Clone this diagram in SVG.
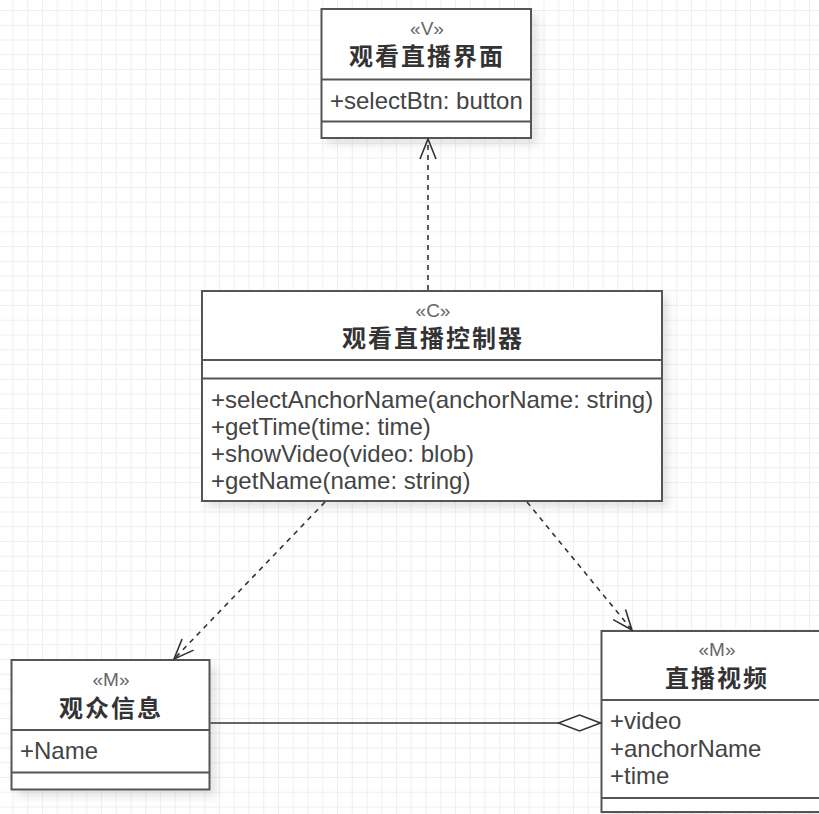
<svg xmlns="http://www.w3.org/2000/svg" width="819" height="814" viewBox="0 0 819 814">
<defs>
<pattern id="grid" width="14.75" height="14.75" x="12.5" y="10" patternUnits="userSpaceOnUse">
<path d="M0 0.5 H14.75 M0.5 0 V14.75" fill="none" stroke="#efefef" stroke-width="1"/>
</pattern>
<filter id="shadow" x="-10%" y="-10%" width="130%" height="130%">
<feDropShadow dx="6" dy="6" stdDeviation="4" flood-color="#000" flood-opacity="0.10"/>
</filter>
<marker id="open" viewBox="-24 -12 26 24" refX="0" refY="0" markerWidth="26" markerHeight="24" markerUnits="userSpaceOnUse" orient="auto">
<path d="M-20,-8 L0,0 L-20,8" fill="none" stroke="#333" stroke-width="1.6" stroke-dasharray="none"/>
</marker>
<marker id="diamond" viewBox="-44 -10 46 20" refX="0" refY="0" markerWidth="46" markerHeight="20" markerUnits="userSpaceOnUse" orient="auto">
<path d="M0,0 L-21,-8 L-42,0 L-21,8 Z" fill="#fff" stroke="#333" stroke-width="1.6" stroke-dasharray="none"/>
</marker>
</defs>
<style>
.box{fill:#fff;stroke:#555;stroke-width:2;filter:url(#shadow)}
.div{stroke:#555;stroke-width:2;fill:none}
.st{font-family:"Liberation Sans",Arial,sans-serif;font-size:19px;fill:#666;text-anchor:middle}
.tt{font-family:"Noto Sans CJK SC",sans-serif;font-size:24px;font-weight:bold;fill:#333;text-anchor:middle;letter-spacing:2px}
.at{font-family:"Liberation Sans",Arial,sans-serif;font-size:24px;fill:#444}
.dep{stroke:#333;stroke-width:1.6;stroke-dasharray:5 5;fill:none}
.asc{stroke:#333;stroke-width:1.6;fill:none}
</style>
<rect width="819" height="814" fill="#fff"/>
<rect width="819" height="814" fill="url(#grid)"/>

<g id="node-view">
<rect class="box" x="321.5" y="9" width="209.5" height="129"/>
<line class="div" x1="321.5" y1="79.5" x2="531" y2="79.5"/>
<line class="div" x1="321.5" y1="121.5" x2="531" y2="121.5"/>
<text class="st" x="427" y="35">«V»</text>
<text class="tt" x="427" y="65">观看直播界面</text>
<text class="at" x="330" y="109">+selectBtn: button</text>
</g>

<g id="node-controller">
<rect class="box" x="202" y="291" width="460" height="210"/>
<line class="div" x1="202" y1="360" x2="662" y2="360"/>
<line class="div" x1="202" y1="378.5" x2="662" y2="378.5"/>
<text class="st" x="433" y="317">«C»</text>
<text class="tt" x="433" y="347">观看直播控制器</text>
<text class="at" x="211" y="407.5">+selectAnchorName(anchorName: string)</text>
<text class="at" x="211" y="434.5">+getTime(time: time)</text>
<text class="at" x="211" y="461.5">+showVideo(video: blob)</text>
<text class="at" x="211" y="488.5">+getName(name: string)</text>
</g>

<g id="node-audience">
<rect class="box" x="11.5" y="660" width="198" height="129.5"/>
<line class="div" x1="11.5" y1="730" x2="209.5" y2="730"/>
<line class="div" x1="11.5" y1="772.5" x2="209.5" y2="772.5"/>
<text class="st" x="111" y="686">«M»</text>
<text class="tt" x="111" y="717">观众信息</text>
<text class="at" x="20" y="758.5">+Name</text>
</g>

<g id="node-video">
<rect class="box" x="601.5" y="631" width="230" height="181"/>
<line class="div" x1="601.5" y1="700" x2="831.5" y2="700"/>
<line class="div" x1="601.5" y1="798" x2="831.5" y2="798"/>
<text class="st" x="717" y="656">«M»</text>
<text class="tt" x="717" y="687">直播视频</text>
<text class="at" x="610" y="729">+video</text>
<text class="at" x="610" y="756.5">+anchorName</text>
<text class="at" x="610" y="783.5">+time</text>
</g>

<g id="connectors">
<line class="dep" x1="428" y1="290" x2="428" y2="139" marker-end="url(#open)"/>
<line class="dep" x1="325" y1="502" x2="174" y2="659" marker-end="url(#open)"/>
<line class="dep" x1="527" y1="502" x2="632" y2="630" marker-end="url(#open)"/>
<line class="asc" x1="210.5" y1="723" x2="600.5" y2="723" marker-end="url(#diamond)"/>
</g>
</svg>
